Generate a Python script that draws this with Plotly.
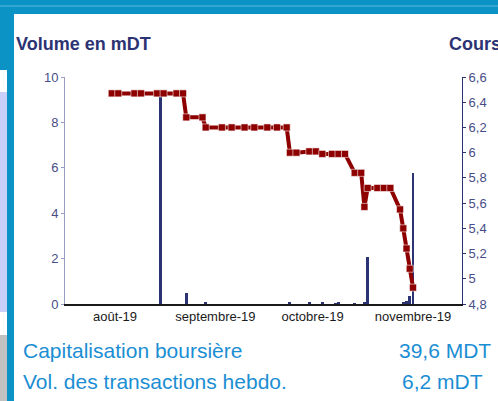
import plotly.graph_objects as go

# ---- data ----
price_dates = ["2019-07-31", "2019-08-02", "2019-08-07", "2019-08-09", "2019-08-14", "2019-08-16",
               "2019-08-20", "2019-08-22", "2019-08-23", "2019-08-28", "2019-08-29", "2019-09-03",
               "2019-09-06", "2019-09-10", "2019-09-13", "2019-09-17", "2019-09-20", "2019-09-23",
               "2019-09-24", "2019-09-26", "2019-09-30", "2019-10-02", "2019-10-04", "2019-10-07",
               "2019-10-09", "2019-10-11", "2019-10-14", "2019-10-16", "2019-10-17", "2019-10-18",
               "2019-10-21", "2019-10-23", "2019-10-25", "2019-10-28", "2019-10-29", "2019-10-30",
               "2019-10-31", "2019-11-01"]
price = [6.47, 6.47, 6.47, 6.47, 6.47, 6.47,
         6.47, 6.47, 6.28, 6.28, 6.20, 6.20,
         6.20, 6.20, 6.20, 6.20, 6.20, 6.20,
         6.00, 6.00, 6.01, 6.01, 5.99, 5.99,
         5.99, 5.99, 5.84, 5.84, 5.57, 5.72,
         5.72, 5.72, 5.72, 5.55, 5.40, 5.24,
         5.08, 4.93]

vol_dates = ["2019-08-15", "2019-08-23", "2019-08-29", "2019-09-24", "2019-09-30", "2019-10-04",
             "2019-10-08", "2019-10-09", "2019-10-14", "2019-10-17", "2019-10-18", "2019-10-29",
             "2019-10-30", "2019-10-31", "2019-11-01"]
volume = [9.43, 0.5, 0.05, 0.1, 0.1, 0.05, 0.04, 0.1, 0.03, 0.05, 2.07, 0.05, 0.15, 0.35, 5.76]

month_ticks = ["2019-08-01", "2019-09-01", "2019-10-01", "2019-11-01"]
month_labels = ["août-19", "septembre-19", "octobre-19", "novembre-19"]

info_labels = ["Capitalisation boursière", "Vol. des transactions hebdo."]
info_values = ["39,6 MDT", "6,2 mDT"]

# ---- layout helpers ----
W, H = 498, 401
L, R, T, B = 65, 462, 77, 304


def px(x):
    return (x - L) / (R - L)


def py(y):
    return (B - y) / (B - T)


NAVY = "#2C3373"
BLUE_TXT = "#1B8ED3"
FONT = "Liberation Sans, Arial, sans-serif"

fig = go.Figure()
fig.add_trace(go.Bar(x=vol_dates, y=volume, marker_color=NAVY, marker_line_width=0,
                     width=0.9 * 86400000, yaxis="y", showlegend=False))
fig.add_trace(go.Scatter(x=price_dates, y=price, mode="lines+markers", yaxis="y2",
                         line=dict(color="#8E0000", width=4),
                         marker=dict(symbol="square", size=7, color="#8E0000",
                                     line=dict(color="rgba(255,255,255,0.55)", width=1)),
                         showlegend=False))

shapes = []
# left decorative strips
shapes.append(dict(type="rect", xref="paper", yref="paper", x0=px(0), x1=px(14), y0=py(14), y1=py(70),
                   fillcolor="#0A93C4", line_width=0, layer="above"))
shapes.append(dict(type="rect", xref="paper", yref="paper", x0=px(0), x1=px(7), y0=py(92), y1=py(312),
                   fillcolor="#C9D1FA", line_width=0, layer="above"))
shapes.append(dict(type="rect", xref="paper", yref="paper", x0=px(0), x1=px(7), y0=py(335), y1=py(401),
                   fillcolor="#C2C2C2", line_width=0, layer="above"))
shapes.append(dict(type="rect", xref="paper", yref="paper", x0=px(7), x1=px(14), y0=py(14), y1=py(401),
                   fillcolor="#0A93C4", line_width=0, layer="above"))
# top band
shapes.append(dict(type="rect", xref="paper", yref="paper", x0=px(0), x1=px(W), y0=py(0), y1=py(14),
                   fillcolor="#0A93C4", line_width=0, layer="above"))
shapes.append(dict(type="line", xref="paper", yref="paper", x0=px(0), x1=px(W), y0=py(6), y1=py(6),
                   line=dict(color="#5CBBE2", width=1), layer="above"))

annotations = [
    dict(text="<b>Volume en mDT</b>", x=px(14), y=py(44), xref="paper", yref="paper",
         xanchor="left", yanchor="middle", showarrow=False, font=dict(size=18, color=NAVY)),
    dict(text="<b>Cours</b>", x=px(447), y=py(44), xref="paper", yref="paper",
         xanchor="left", yanchor="middle", showarrow=False, font=dict(size=18, color=NAVY)),
]
for i, (lab, val) in enumerate(zip(info_labels, info_values)):
    yc = [350, 381][i]
    xr = [493, 485][i]
    annotations.append(dict(text=lab, x=px(21), y=py(yc), xref="paper", yref="paper",
                            xanchor="left", yanchor="middle", showarrow=False,
                            font=dict(size=21, color=BLUE_TXT)))
    annotations.append(dict(text=val, x=px(xr), y=py(yc), xref="paper", yref="paper",
                            xanchor="right", yanchor="middle", showarrow=False,
                            font=dict(size=21, color=BLUE_TXT)))

fig.update_layout(
    width=W, height=H,
    margin=dict(l=L, r=W - R, t=T, b=H - B, pad=0),
    paper_bgcolor="white", plot_bgcolor="white",
    font=dict(family=FONT),
    separators=", ",
    bargap=0,
    xaxis=dict(type="date", range=["2019-07-16 13:30", "2019-11-16 03:00"],
               tickvals=month_ticks, ticktext=month_labels, ticks="",
               showline=True, linecolor="#1A1A1A", linewidth=1.5, showgrid=False, zeroline=False,
               tickfont=dict(size=13, color="#1A1A1A"), fixedrange=True),
    yaxis=dict(range=[0, 10], dtick=2, showline=True, linecolor="#9A9CC4", linewidth=1,
               ticks="outside", ticklen=3, tickcolor="#9A9CC4", showgrid=False, zeroline=False,
               tickfont=dict(size=13, color="#474D88")),
    yaxis2=dict(range=[4.8, 6.6], dtick=0.2, overlaying="y", side="right", showline=True,
                linecolor=NAVY, linewidth=1, ticks="outside", ticklen=3, tickcolor=NAVY,
                showgrid=False, zeroline=False, tickfont=dict(size=13, color="#474D88")),
    shapes=shapes, annotations=annotations,
)

fig.write_html("out.html", config={"displayModeBar": False},
               post_script="document.body.style.margin='0';document.body.style.overflow='hidden';")
